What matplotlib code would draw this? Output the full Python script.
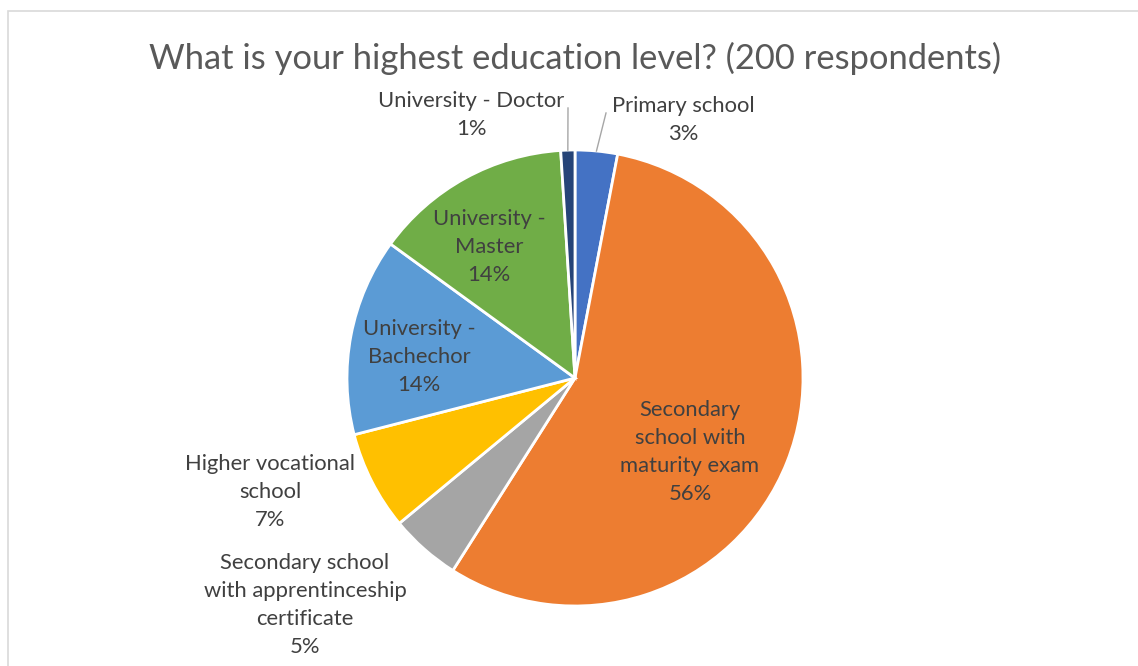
import numpy as np
import matplotlib.pyplot as plt
from matplotlib.patches import Rectangle

plt.rcParams['font.family'] = ['Lato', 'DejaVu Sans']

# survey answers, counted out of 200 respondents
categories = [
    "Primary school",
    "Secondary\nschool with\nmaturity exam",
    "Secondary school\nwith apprentinceship\ncertificate",
    "Higher vocational\nschool",
    "University -\nBachechor",
    "University -\nMaster",
    "University - Doctor",
]
counts = [6, 112, 10, 14, 28, 28, 2]
colors = ["#4472C4", "#ED7D31", "#A5A5A5", "#FFC000", "#5B9BD5", "#70AD47", "#264478"]

# label centres in pixel coordinates (y measured from top)
label_xy = [(683, 120), (690, 452), (305, 605), (270, 492), (419, 357), (489, 247), (471, 115)]
# leader lines for the thin slices: (index, text end)
leaders = {0: (606, 113), 6: (568, 108)}

W, H = 1138, 666
fig = plt.figure(figsize=(W / 100, H / 100), dpi=100)
ax = fig.add_axes([0, 0, 1, 1])

# chart frame
ax.add_patch(Rectangle((8, -20), W + 20, H - 11 + 20, facecolor='white',
                       edgecolor='#D9D9D9', linewidth=1.2, zorder=0))

cx, cy, r = 575, H - 378, 228
total = sum(counts)
wedges, _ = ax.pie(counts, colors=colors, startangle=90, counterclock=False,
                   center=(cx, cy), radius=r, frame=True,
                   wedgeprops=dict(edgecolor='white', linewidth=2))
ax.set_xlim(0, W)
ax.set_ylim(0, H)
ax.set_aspect('equal')
ax.axis('off')

for i, (name, n) in enumerate(zip(categories, counts)):
    pct = round(100 * n / total)
    x, y = label_xy[i]
    ax.text(x, H - y, f"{name}\n{pct}%", ha='center', va='center',
            fontsize=15.8, color='#404040', linespacing=1.5, zorder=5)
    if i in leaders:
        w = wedges[i]
        mid = np.deg2rad((w.theta1 + w.theta2) / 2)
        x0, y0 = cx + r * np.cos(mid), cy + r * np.sin(mid)
        x1, y1 = leaders[i]
        ax.plot([x0, x1], [y0, H - y1], color='#A6A6A6', linewidth=1, zorder=4)

ax.text(575, H - 58, "What is your highest education level? (200 respondents)",
        ha='center', va='center', fontsize=24.8, color='#595959')

fig.savefig("out.png", dpi=100)
